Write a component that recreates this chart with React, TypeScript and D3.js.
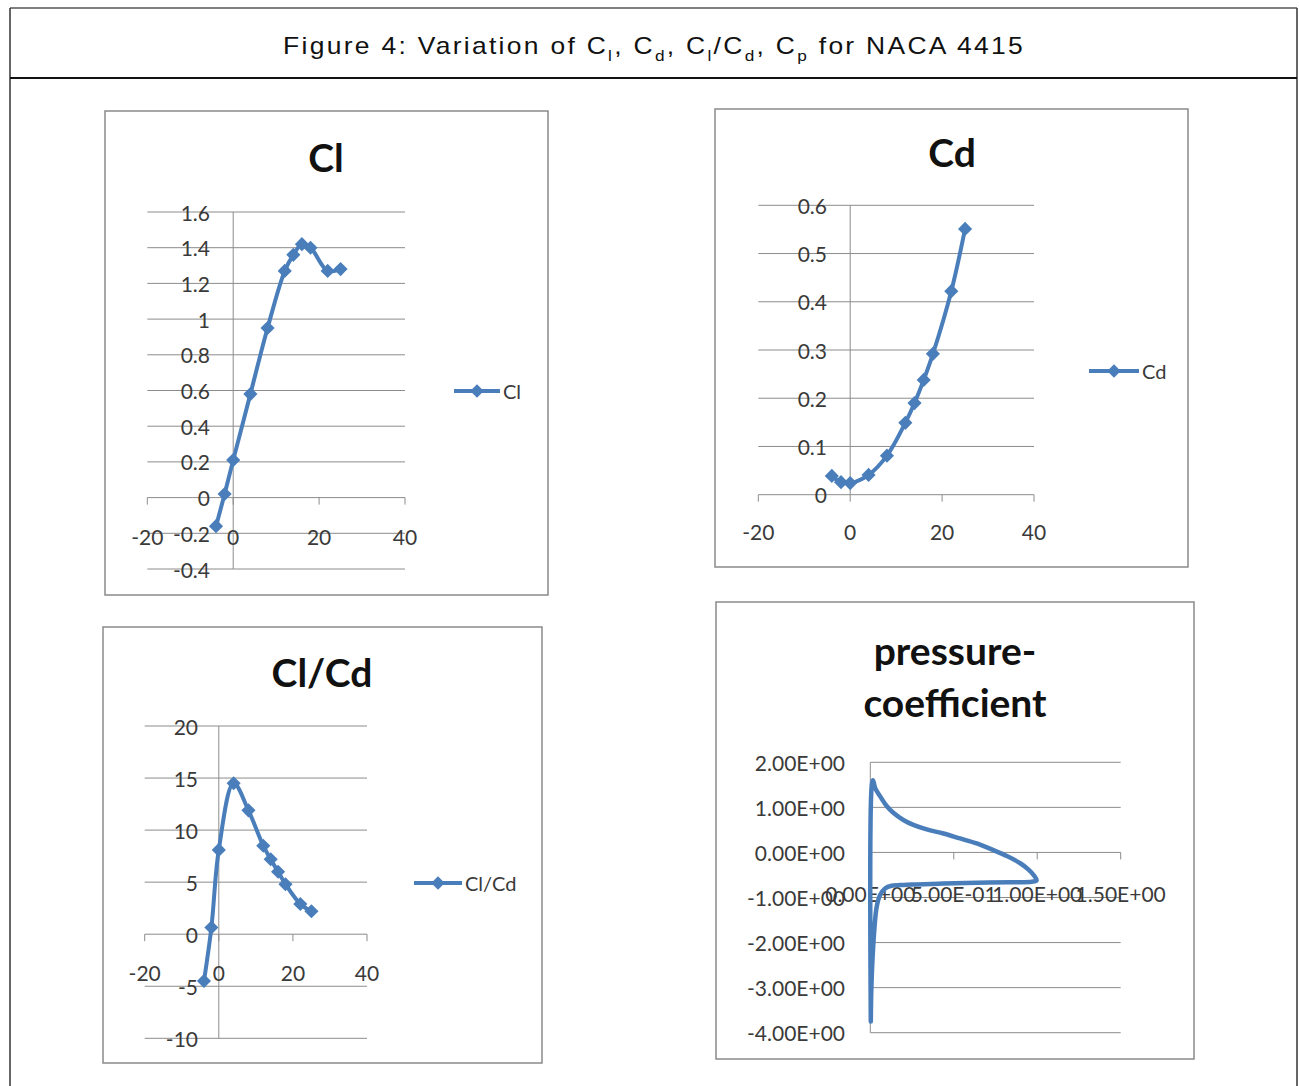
import React from 'react';
import * as d3 from 'd3';

// ---------- data ----------
const alphaDeg = [-4, -2, 0, 4, 8, 12, 14, 16, 18, 22, 25];
const clValues = [-0.16, 0.02, 0.21, 0.58, 0.95, 1.27, 1.36, 1.42, 1.4, 1.27, 1.28];
const cdValues = [0.039, 0.026, 0.024, 0.041, 0.081, 0.149, 0.19, 0.238, 0.292, 0.422, 0.551];
const clcdValues = [-4.5, 0.64, 8.1, 14.5, 11.9, 8.5, 7.2, 6.0, 4.8, 2.9, 2.2];

const cpX = [0.003, 0.008, 0.016, 0.03, 0.058, 0.098, 0.138, 0.198, 0.258, 0.338, 0.438, 0.538, 0.638, 0.738, 0.818, 0.898, 0.948, 0.978, 0.996, 0.968, 0.838, 0.638, 0.438, 0.278, 0.2, 0.128, 0.088, 0.058, 0.038, 0.024, 0.012, 0.006, 0.003];
const cpValues = [-3.75, 1.45, 1.6, 1.42, 1.25, 1.03, 0.88, 0.72, 0.61, 0.51, 0.42, 0.31, 0.2, 0.05, -0.08, -0.24, -0.38, -0.5, -0.62, -0.65, -0.66, -0.67, -0.69, -0.71, -0.72, -0.74, -0.8, -0.95, -1.21, -1.72, -2.46, -3.06, -3.75];

const aoaTicks = [-20, 0, 20, 40];
const clTicks = [-0.4, -0.2, 0, 0.2, 0.4, 0.6, 0.8, 1, 1.2, 1.4, 1.6];
const cdTicks = [0, 0.1, 0.2, 0.3, 0.4, 0.5, 0.6];
const clcdTicks = [-10, -5, 0, 5, 10, 15, 20];
const cpXTicks = [0, 0.5, 1, 1.5];
const cpYTicks = [-4, -3, -2, -1, 0, 1, 2];

// ---------- styles ----------
const BLUE = '#4A7EBB';
const GRID = '#8C8C8C';
const TEXT = '#3A3A3A';
const LABEL_FONT = 'Lato, "Noto Sans", sans-serif';

function expFmt(v: number): string {
  if (v === 0) return '0.00E+00';
  const e = Math.floor(Math.log10(Math.abs(v)) + 1e-9);
  const m = v / Math.pow(10, e);
  const es = (e < 0 ? '-' : '+') + String(Math.abs(e)).padStart(2, '0');
  return m.toFixed(2) + 'E' + es;
}
const plainFmt = (v: number) => String(v);

const markerPath = d3.symbol().type(d3.symbolSquare).size(100)() as string;
const legendMarker = d3.symbol().type(d3.symbolSquare).size(90)() as string;

type Cfg = {
  box: [number, number, number, number];
  title: string[];
  titleX: number;
  titleY: number;
  titleLH: number;
  xDomain: [number, number];
  xRange: [number, number];
  yDomain: [number, number];
  yRange: [number, number];
  xTicks: number[];
  yTicks: number[];
  xFmt: (v: number) => string;
  yFmt: (v: number) => string;
  yLabelRight: number;
  xLabelY: number;
  xs: number[];
  ys: number[];
  markers: boolean;
  strokeW: number;
  legend?: { x1: number; x2: number; y: number; label: string };
};

function Panel({ cfg }: { cfg: Cfg }) {
  const x = d3.scaleLinear().domain(cfg.xDomain).range(cfg.xRange);
  const y = d3.scaleLinear().domain(cfg.yDomain).range(cfg.yRange);
  const pts: [number, number][] = cfg.xs.map((v, i) => [v, cfg.ys[i]]);
  const line = d3
    .line<[number, number]>()
    .x((d) => x(d[0]))
    .y((d) => y(d[1]))
    .curve(d3.curveCatmullRom.alpha(0.5));
  const [gx0, gx1] = cfg.xRange;
  const yTop = y(cfg.yDomain[1]);
  const yBot = y(cfg.yDomain[0]);
  const [bx, by, bw, bh] = cfg.box;
  return (
    <g>
      <rect x={bx} y={by} width={bw} height={bh} fill="#fff" stroke="#8a8a8a" strokeWidth={1.5} />
      {cfg.title.map((t, i) => (
        <text
          key={t}
          x={cfg.titleX}
          y={cfg.titleY + i * cfg.titleLH}
          textAnchor="middle"
          fontFamily='Lato, "Open Sans", sans-serif'
          fontWeight={700}
          fontSize={39}
          fill="#111"
        >
          {t}
        </text>
      ))}
      {cfg.yTicks.map((v) => (
        <line key={'g' + v} x1={gx0} x2={gx1} y1={y(v)} y2={y(v)} stroke={GRID} strokeWidth={1} />
      ))}
      <line x1={x(0)} x2={x(0)} y1={yTop} y2={yBot} stroke={GRID} strokeWidth={1} />
      {cfg.xTicks.map((v) => (
        <line key={'t' + v} x1={x(v)} x2={x(v)} y1={y(0)} y2={y(0) + 7} stroke={GRID} strokeWidth={1} />
      ))}
      {cfg.yTicks.map((v) => (
        <text
          key={'yl' + v}
          x={cfg.yLabelRight}
          y={y(v)}
          textAnchor="end"
          dominantBaseline="central"
          fontFamily={LABEL_FONT}
          fontSize={21}
          fill={TEXT}
        >
          {cfg.yFmt(v)}
        </text>
      ))}
      {cfg.xTicks.map((v) => (
        <text
          key={'xl' + v}
          x={x(v)}
          y={cfg.xLabelY}
          textAnchor="middle"
          dominantBaseline="central"
          fontFamily={LABEL_FONT}
          fontSize={21}
          fill={TEXT}
        >
          {cfg.xFmt(v)}
        </text>
      ))}
      <path d={line(pts) || ''} fill="none" stroke={BLUE} strokeWidth={cfg.strokeW} strokeLinejoin="round" strokeLinecap="round" />
      {cfg.markers &&
        pts.map((p, i) => (
          <path key={'m' + i} d={markerPath} fill={BLUE} transform={`translate(${x(p[0])},${y(p[1])}) rotate(45)`} />
        ))}
      {cfg.legend && (
        <g>
          <line x1={cfg.legend.x1} x2={cfg.legend.x2} y1={cfg.legend.y} y2={cfg.legend.y} stroke={BLUE} strokeWidth={4} />
          <path d={legendMarker} fill={BLUE} transform={`translate(${(cfg.legend.x1 + cfg.legend.x2) / 2},${cfg.legend.y}) rotate(45)`} />
          <text
            x={cfg.legend.x2 + 3}
            y={cfg.legend.y}
            dominantBaseline="central"
            fontFamily={LABEL_FONT}
            fontSize={20}
            fill={TEXT}
          >
            {cfg.legend.label}
          </text>
        </g>
      )}
    </g>
  );
}

const panels: Cfg[] = [
  {
    box: [105, 111, 443, 484],
    title: ['Cl'],
    titleX: 326,
    titleY: 172,
    titleLH: 0,
    xDomain: [-20, 40],
    xRange: [147.3, 405],
    yDomain: [-0.4, 1.6],
    yRange: [569, 212],
    xTicks: aoaTicks,
    yTicks: clTicks,
    xFmt: plainFmt,
    yFmt: plainFmt,
    yLabelRight: 210,
    xLabelY: 536,
    xs: alphaDeg,
    ys: clValues,
    markers: true,
    strokeW: 4,
    legend: { x1: 454, x2: 500, y: 391, label: 'Cl' },
  },
  {
    box: [715, 109, 473, 458],
    title: ['Cd'],
    titleX: 952,
    titleY: 167,
    titleLH: 0,
    xDomain: [-20, 40],
    xRange: [758.3, 1034],
    yDomain: [0, 0.6],
    yRange: [494.7, 205.3],
    xTicks: aoaTicks,
    yTicks: cdTicks,
    xFmt: plainFmt,
    yFmt: plainFmt,
    yLabelRight: 827,
    xLabelY: 531,
    xs: alphaDeg,
    ys: cdValues,
    markers: true,
    strokeW: 4,
    legend: { x1: 1089, x2: 1139, y: 371, label: 'Cd' },
  },
  {
    box: [103, 627, 439, 436],
    title: ['Cl/Cd'],
    titleX: 322,
    titleY: 687,
    titleLH: 0,
    xDomain: [-20, 40],
    xRange: [144.7, 367],
    yDomain: [-10, 20],
    yRange: [1038.3, 726],
    xTicks: aoaTicks,
    yTicks: clcdTicks,
    xFmt: plainFmt,
    yFmt: plainFmt,
    yLabelRight: 198,
    xLabelY: 972,
    xs: alphaDeg,
    ys: clcdValues,
    markers: true,
    strokeW: 4,
    legend: { x1: 414, x2: 462, y: 883, label: 'Cl/Cd' },
  },
  {
    box: [716, 602, 478, 457],
    title: ['pressure-', 'coefficient'],
    titleX: 955,
    titleY: 665,
    titleLH: 52,
    xDomain: [0, 1.5],
    xRange: [870.3, 1120.7],
    yDomain: [-4, 2],
    yRange: [1032.7, 762.3],
    xTicks: cpXTicks,
    yTicks: cpYTicks,
    xFmt: expFmt,
    yFmt: expFmt,
    yLabelRight: 845,
    xLabelY: 893,
    xs: cpX,
    ys: cpValues,
    markers: false,
    strokeW: 4.5,
  },
];

function Header() {
  const subSize = 15;
  const down = 7;
  return (
    <text
      transform="translate(654,54) scale(1.15,1)"
      x={0}
      y={0}
      textAnchor="middle"
      fontFamily='"Liberation Sans", Arial, sans-serif'
      fontSize={23}
      letterSpacing={2}
      fill="#111"
    >
      <tspan>Figure 4: Variation of C</tspan>
      <tspan fontSize={subSize} dy={down}>l</tspan>
      <tspan dy={-down}>, C</tspan>
      <tspan fontSize={subSize} dy={down}>d</tspan>
      <tspan dy={-down}>, C</tspan>
      <tspan fontSize={subSize} dy={down}>l</tspan>
      <tspan dy={-down}>/C</tspan>
      <tspan fontSize={subSize} dy={down}>d</tspan>
      <tspan dy={-down}>, C</tspan>
      <tspan fontSize={subSize} dy={down}>p</tspan>
      <tspan dy={-down}> for NACA 4415</tspan>
    </text>
  );
}

export default function App() {
  return (
    <svg
      width={1299}
      height={1086}
      viewBox="0 0 1299 1086"
      style={{ position: 'absolute', left: 0, top: 0, background: '#fff' }}
    >
      <rect x={0} y={0} width={1299} height={1086} fill="#fff" />
      <line x1={10} x2={1297} y1={8} y2={8} stroke="#555" strokeWidth={1.5} />
      <line x1={10} x2={10} y1={8} y2={1086} stroke="#333" strokeWidth={1.5} />
      <line x1={1297} x2={1297} y1={8} y2={1086} stroke="#333" strokeWidth={1.5} />
      <line x1={10} x2={1297} y1={78} y2={78} stroke="#111" strokeWidth={2} />
      <Header />
      {panels.map((p, i) => (
        <Panel key={i} cfg={p} />
      ))}
    </svg>
  );
}
